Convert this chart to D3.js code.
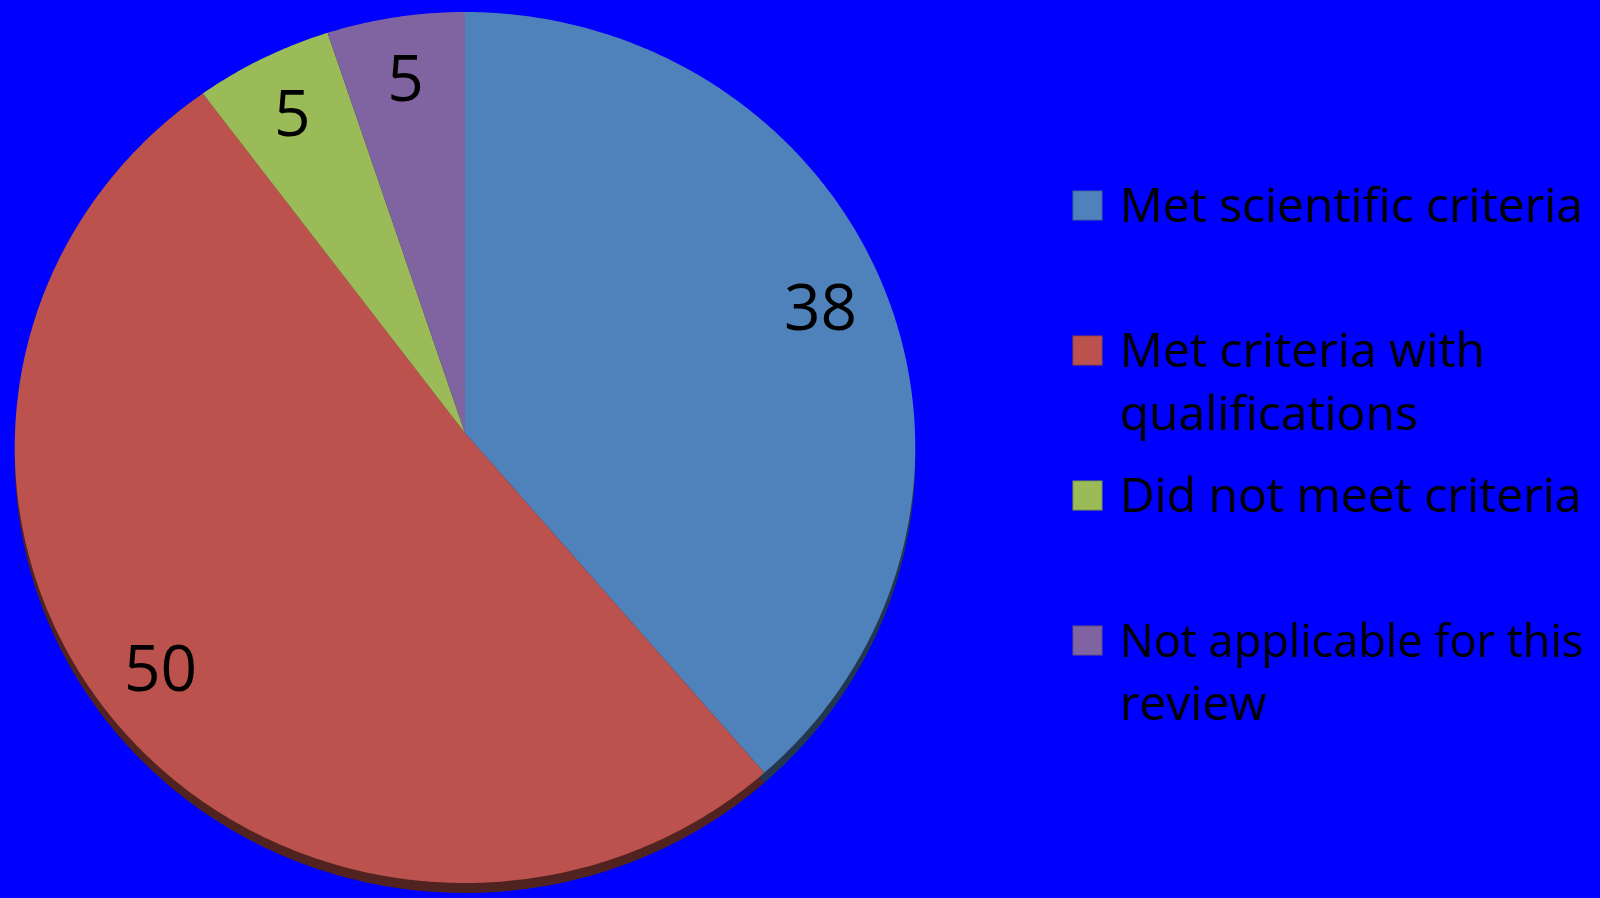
<!DOCTYPE html>
<html>
<head>
<meta charset="utf-8">
<script src="https://cdn.jsdelivr.net/npm/d3@7"></script>
<style>
  html, body { margin: 0; padding: 0; background: #0000ff; }
  svg { display: block; }
  text { font-family: "Open Sans", sans-serif; fill: #000; }
</style>
</head>
<body>
<div id="chart"></div>
<script>
// chart data
const categories = [
  "Met scientific criteria",
  "Met criteria with qualifications",
  "Did not meet criteria",
  "Not applicable for this review"
];
const values = [38, 50, 5, 5];
const colors = ["#4f81ba", "#bc524e", "#9bbb59", "#8064a2"];

(function () {
  "use strict";

  const W = 1600, H = 898;

  // pie geometry (tilted disc, apex a bit above the ellipse middle)
  const cx = 465, cy = 433;
  const rx = 450, ry = 435;
  const tilt = 0.0333;
  const depth = 10;
  const labelR = 0.85;

  const svg = d3.select("#chart").append("svg")
    .attr("width", W)
    .attr("height", H);

  svg.append("rect")
    .attr("width", W)
    .attr("height", H)
    .attr("fill", "#0000ff");

  // project a polar point on the unit disc into the page
  function project(a, r) {
    const u = r * Math.sin(a), v = -r * Math.cos(a);
    const d = 1 - tilt * v;
    return [cx + rx * u / d, cy + ry * v / d];
  }

  function slicePath(d, dy) {
    const pts = [[cx, cy + dy]];
    const n = Math.max(4, Math.ceil((d.endAngle - d.startAngle) / 0.01));
    for (let i = 0; i <= n; i++) {
      const a = d.startAngle + (d.endAngle - d.startAngle) * i / n;
      const p = project(a, 1);
      pts.push([p[0], p[1] + dy]);
    }
    return d3.line()(pts) + "Z";
  }

  const pie = d3.pie().sort(null).value(d => d.value);
  const arcs = pie(values.map((v, i) => ({ value: v, i: i })));

  const color = d3.scaleOrdinal().domain(d3.range(categories.length)).range(colors);

  // side of the disc: shifted copy, darker
  svg.append("g").selectAll("path")
    .data(arcs)
    .join("path")
    .attr("d", d => slicePath(d, depth))
    .attr("fill", d => d3.color(color(d.data.i)).darker(2.4));

  // top faces
  svg.append("g").selectAll("path")
    .data(arcs)
    .join("path")
    .attr("d", d => slicePath(d, 0))
    .attr("fill", d => color(d.data.i));

  // value labels
  svg.append("g").selectAll("text")
    .data(arcs)
    .join("text")
    .attr("x", d => project((d.startAngle + d.endAngle) / 2, labelR)[0])
    .attr("y", d => project((d.startAngle + d.endAngle) / 2, labelR)[1])
    .attr("dy", "0.36em")
    .attr("text-anchor", "middle")
    .attr("font-size", 64)
    .text(d => d.data.value);

  // legend
  const legendX = 1073, legendY = 191, rowH = 145, sw = 29;
  const textX = 1120, lineH = 63, fontSize = 48, maxW = 520;
  const roomW = W - textX - 16;

  const legend = svg.append("g").attr("class", "legend");

  categories.forEach((cat, i) => {
    const top = legendY + i * rowH;
    legend.append("rect")
      .attr("x", legendX)
      .attr("y", top)
      .attr("width", sw)
      .attr("height", sw)
      .attr("fill", colors[i])
      .attr("stroke", d3.color(colors[i]).darker(0.6))
      .attr("stroke-width", 1);

    // greedy word wrap
    const probe = legend.append("text").attr("font-size", fontSize);
    const measure = s => { probe.text(s); return probe.node().getComputedTextLength(); };
    const lines = [];
    let cur = "";
    cat.split(" ").forEach(w => {
      const next = cur ? cur + " " + w : w;
      if (cur && measure(next) > maxW) { lines.push(cur); cur = w; }
      else cur = next;
    });
    lines.push(cur);
    probe.remove();

    lines.forEach((ln, j) => {
      const t = legend.append("text")
        .attr("x", textX)
        .attr("y", top + 31 + j * lineH)
        .attr("font-size", fontSize)
        .text(ln);
      // shrink a long line so it stays inside the page
      const w = t.node().getComputedTextLength();
      if (w > roomW) t.attr("font-size", Math.floor(fontSize * roomW / w * 10) / 10);
    });
  });
})();
</script>
</body>
</html>
